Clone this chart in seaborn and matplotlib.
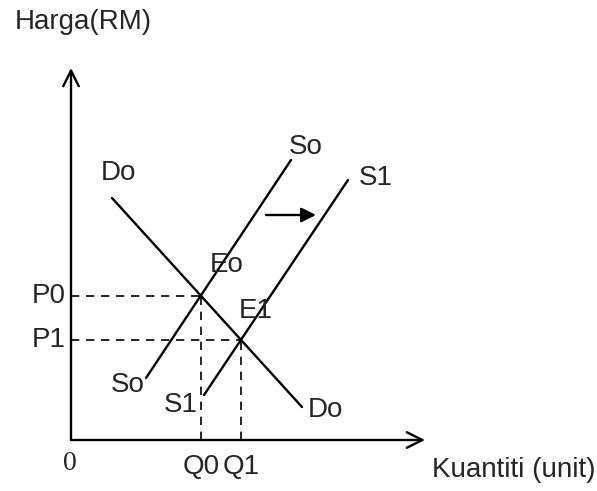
import pandas as pd
import matplotlib.pyplot as plt
import seaborn as sns

# --- data (arbitrary units, origin at 0,0) ---
do_q = [41, 231]
do_p = [242, 33]
so_q = [75, 220]
so_p = [62, 280]
s1_q = [133, 277]
s1_p = [45, 260]

eq_q = [130, 170]   # Q0, Q1
eq_p = [144, 100]   # P0, P1
eq_names = ["Eo", "E1"]
q_labels = ["Q0", "Q1"]
p_labels = ["P0", "P1"]

sns.set_style("white")
plt.rcParams['font.family'] = ['Liberation Sans', 'DejaVu Sans']

fig = plt.figure(figsize=(5.97, 4.91), dpi=100)
ax = fig.add_axes([0, 0, 1, 1])
ax.set_xlim(-71, 526)
ax.set_ylim(-51, 440)
ax.axis("off")

lines = pd.concat([
    pd.DataFrame({"q": do_q, "p": do_p, "kurva": "Do"}),
    pd.DataFrame({"q": so_q, "p": so_p, "kurva": "So"}),
    pd.DataFrame({"q": s1_q, "p": s1_p, "kurva": "S1"}),
])
sns.lineplot(data=lines, x="q", y="p", units="kurva", estimator=None,
             color="black", lw=1.7, sort=False, ax=ax)

# paksi
ax.annotate("", xy=(0, 372), xytext=(0, 0),
            arrowprops=dict(arrowstyle="->", lw=1.7, color="black",
                            mutation_scale=28, shrinkA=0, shrinkB=0))
ax.annotate("", xy=(354, 0), xytext=(0, 0),
            arrowprops=dict(arrowstyle="->", lw=1.7, color="black",
                            mutation_scale=28, shrinkA=0, shrinkB=0))

# garis putus-putus
for q, p in zip(eq_q, eq_p):
    ax.plot([0, q], [p, p], color="black", lw=1.2, ls=(0, (5, 4)))
    ax.plot([q, q], [0, p], color="black", lw=1.2, ls=(0, (5, 4)))

# anak panah anjakan
ax.annotate("", xy=(245, 225), xytext=(195, 225),
            arrowprops=dict(arrowstyle="-|>", lw=1.7, color="black",
                            mutation_scale=22, shrinkA=0, shrinkB=0))

fs = 20
ax.text(-56, 418, "Harga(RM)", fontsize=fs, ha="left", va="center")
ax.text(361, -30, "Kuantiti (unit)", fontsize=fs, ha="left", va="center")
ax.text(-1, -23, "0", fontsize=fs, ha="center", va="center",
        family=['Liberation Serif'])
for q, lab in zip(eq_q, q_labels):
    ax.text(q, -27, lab, fontsize=fs, ha="center", va="center")
for p, lab in zip(eq_p, p_labels):
    ax.text(-5, p, lab, fontsize=fs, ha="right", va="center")

ax.text(156, 175, eq_names[0], fontsize=fs, ha="center", va="center")
ax.text(185, 129, eq_names[1], fontsize=fs, ha="center", va="center")
ax.text(47, 267, "Do", fontsize=fs, ha="center", va="center")
ax.text(254, 30, "Do", fontsize=fs, ha="center", va="center")
ax.text(235, 293, "So", fontsize=fs, ha="center", va="center")
ax.text(57, 55, "So", fontsize=fs, ha="center", va="center")
ax.text(305, 262, "S1", fontsize=fs, ha="center", va="center")
ax.text(110, 35, "S1", fontsize=fs, ha="center", va="center")

fig.savefig("out.png", dpi=100)
